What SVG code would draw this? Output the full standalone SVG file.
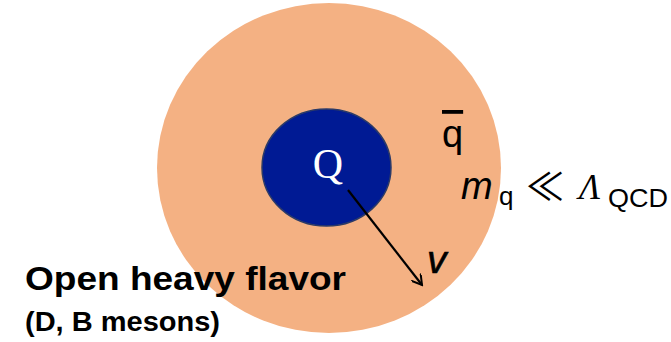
<svg xmlns="http://www.w3.org/2000/svg" width="671" height="342" viewBox="0 0 671 342">
  <style>
    .sans { font-family: "Liberation Sans", Arial, sans-serif; fill: #000; }
    .serif { font-family: "Liberation Serif", "Times New Roman", serif; }
    .bold { font-weight: bold; }
    .ital { font-style: italic; }
  </style>
  <defs>
    <marker id="openArrow" viewBox="0 0 12 12" refX="10" refY="6" markerWidth="12" markerHeight="12" markerUnits="userSpaceOnUse" orient="auto">
      <path d="M0,0 L10,6 L0,12" fill="none" stroke="#000" stroke-width="2"/>
    </marker>
  </defs>
  <rect width="671" height="342" fill="#ffffff"/>

  <g id="meson">
    <ellipse cx="329" cy="168" rx="172" ry="165" fill="#f4b183"/>
  </g>

  <g id="heavy-quark">
    <ellipse cx="326.5" cy="167.5" rx="64.5" ry="58.5" fill="#001a94" stroke="#2b3a67" stroke-width="1.5"/>
    <text class="serif" x="328" y="178" font-size="42" text-anchor="middle" fill="#ffffff">Q</text>
  </g>

  <g id="connectors">
    <line x1="348" y1="190" x2="422" y2="285" stroke="#000" stroke-width="2.2" marker-end="url(#openArrow)"/>
  </g>

  <g id="velocity-label">
    <text class="sans ital" x="427" y="273" font-size="39" stroke="#000" stroke-width="0.6">v</text>
  </g>

  <g id="antiquark-label">
    <text class="sans" x="442" y="147" font-size="38" text-decoration="overline">q</text>
  </g>

  <g id="mass-relation">
    <text class="sans" font-size="38"><tspan class="ital" x="461" y="199">m</tspan><tspan x="499" y="205" font-size="26">q</tspan><tspan x="526" y="200" font-family="'Noto Sans CJK JP', 'DejaVu Sans', sans-serif" font-size="38">≪</tspan><tspan x="579" y="199" class="serif ital" font-size="35">Λ</tspan><tspan x="608" y="207" font-size="26" textLength="60" lengthAdjust="spacingAndGlyphs">QCD</tspan></text>
  </g>

  <g id="title">
    <text class="sans bold" x="25" y="290" font-size="34" textLength="321" lengthAdjust="spacingAndGlyphs">Open heavy flavor</text>
    <text class="sans bold" x="25" y="331" font-size="28" textLength="195" lengthAdjust="spacingAndGlyphs">(D, B mesons)</text>
  </g>
</svg>
